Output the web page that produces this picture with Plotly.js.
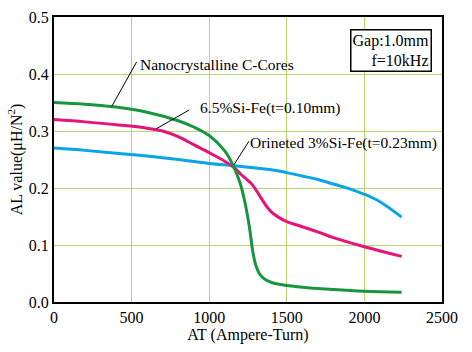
<!DOCTYPE html>
<html>
<head>
<meta charset="utf-8">
<script src="https://cdn.plot.ly/plotly-3.0.1.min.js"></script>
<style>html,body{margin:0;padding:0;background:#fff;}#chart{width:472px;height:352px;}</style>
</head>
<body>
<div id="chart"></div>
<script>
// Nanocrystalline C-Cores
const nanoX = [0, 200, 400, 600, 800, 900, 1000, 1100, 1150, 1200, 1230, 1260, 1280, 1300, 1330, 1370, 1450, 1600, 1800, 2000, 2240];
const nanoY = [0.350, 0.347, 0.342, 0.333, 0.318, 0.307, 0.292, 0.265, 0.242, 0.208, 0.175, 0.130, 0.090, 0.065, 0.047, 0.038, 0.031, 0.026, 0.022, 0.019, 0.017];
// 6.5%Si-Fe(t=0.10mm)
const sifeX = [0, 200, 400, 600, 700, 800, 900, 1000, 1100, 1160, 1200, 1250, 1280, 1310, 1340, 1370, 1400, 1450, 1500, 1600, 1700, 1800, 2000, 2240];
const sifeY = [0.320, 0.316, 0.311, 0.305, 0.300, 0.290, 0.276, 0.262, 0.247, 0.236, 0.225, 0.213, 0.205, 0.193, 0.180, 0.168, 0.158, 0.148, 0.141, 0.132, 0.123, 0.113, 0.097, 0.080];
// Orineted 3%Si-Fe(t=0.23mm)
const orX = [0, 200, 400, 600, 800, 1000, 1160, 1300, 1400, 1500, 1600, 1700, 1800, 1900, 2000, 2100, 2240];
const orY = [0.270, 0.266, 0.261, 0.256, 0.250, 0.243, 0.239, 0.235, 0.232, 0.227, 0.221, 0.215, 0.207, 0.199, 0.189, 0.176, 0.149];

const xTicks = [0, 500, 1000, 1500, 2000, 2500];
const yTicks = [0, 0.1, 0.2, 0.3, 0.4, 0.5];

const FONT = '"Liberation Serif", serif';
const GRID = '#b8d56e';

const traces = [
  {x: orX, y: orY, mode: 'lines', line: {color: '#0aa5e6', width: 3, shape: 'spline'}, name: 'Orineted 3%Si-Fe(t=0.23mm)'},
  {x: sifeX, y: sifeY, mode: 'lines', line: {color: '#e5147a', width: 3, shape: 'spline'}, name: '6.5%Si-Fe(t=0.10mm)'},
  {x: nanoX, y: nanoY, mode: 'lines', line: {color: '#17963f', width: 3, shape: 'spline'}, name: 'Nanocrystalline C-Cores'}
];

const leader = (x0, y0, x1, y1) => ({type: 'line', xref: 'x', yref: 'y', x0: x0, y0: y0, x1: x1, y1: y1, line: {color: '#000', width: 1}});

const layout = {
  width: 472, height: 352,
  margin: {l: 54, r: 30, t: 17, b: 50},
  paper_bgcolor: '#fff', plot_bgcolor: '#fff',
  showlegend: false,
  font: {family: FONT, size: 16, color: '#000'},
  xaxis: {
    range: [0, 2500], tickvals: xTicks, ticktext: xTicks.map(String),
    showgrid: true, gridcolor: GRID, gridwidth: 1,
    showline: true, linecolor: '#000', linewidth: 2, mirror: true,
    ticks: '', zeroline: false,
    title: {text: 'AT (Ampere-Turn)', font: {family: FONT, size: 16}, standoff: 4},
    tickfont: {family: FONT, size: 16}
  },
  yaxis: {
    range: [0, 0.5], tickvals: yTicks, ticktext: yTicks.map(v => v.toFixed(1)),
    showgrid: true, gridcolor: GRID, gridwidth: 1,
    showline: true, linecolor: '#000', linewidth: 2, mirror: true,
    ticks: '', zeroline: false,
    title: {text: 'AL value(μH/N<sup>2</sup>)', font: {family: FONT, size: 16}, standoff: 2},
    tickfont: {family: FONT, size: 16}
  },
  shapes: [
    leader(372, 0.343, 532, 0.421),
    leader(660, 0.304, 872, 0.337),
    leader(1160, 0.241, 1256, 0.282)
  ],
  annotations: [
    {xref: 'x', yref: 'y', x: 540, y: 0.416, text: 'Nanocrystalline C-Cores', showarrow: false, xanchor: 'left', yanchor: 'middle', font: {family: FONT, size: 15.5}},
    {xref: 'x', yref: 'y', x: 929, y: 0.341, text: '6.5%Si-Fe(t=0.10mm)', showarrow: false, xanchor: 'left', yanchor: 'middle', font: {family: FONT, size: 15.5}},
    {xref: 'x', yref: 'y', x: 1250, y: 0.279, text: 'Orineted 3%Si-Fe(t=0.23mm)', showarrow: false, xanchor: 'left', yanchor: 'middle', font: {family: FONT, size: 15.5}},
    {xref: 'paper', yref: 'paper', x: 0.974, y: 0.958, text: 'Gap:1.0mm<br>f=10kHz', showarrow: false, xanchor: 'right', yanchor: 'top', align: 'right',
     bordercolor: '#000', borderwidth: 1.5, borderpad: 1, bgcolor: '#fff', font: {family: FONT, size: 16}}
  ]
};

Plotly.newPlot('chart', traces, layout, {displayModeBar: false, staticPlot: true});
</script>
</body>
</html>
